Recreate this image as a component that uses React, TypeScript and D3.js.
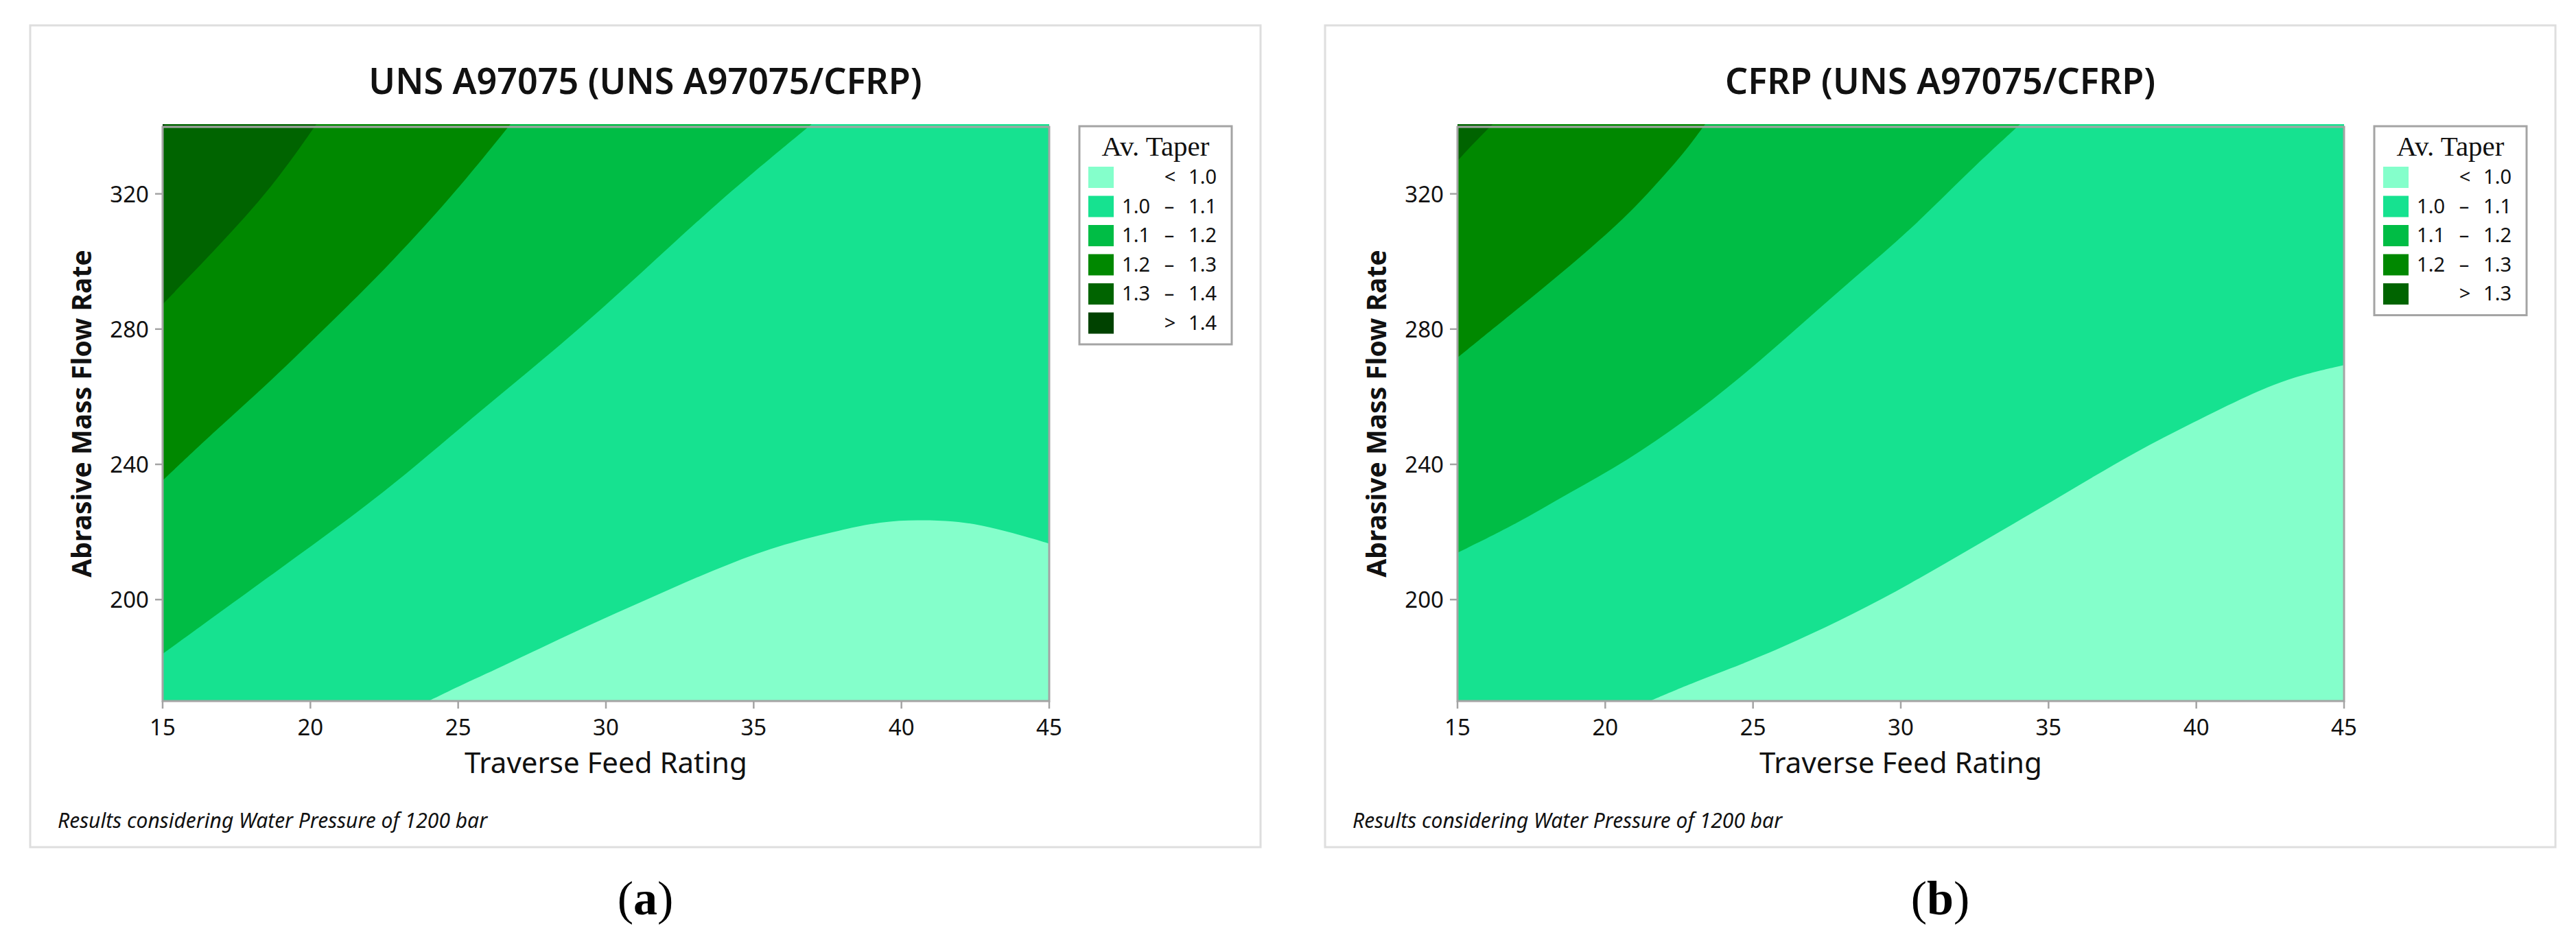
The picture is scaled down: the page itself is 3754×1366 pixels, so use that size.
import { useEffect } from 'react';
import * as d3 from 'd3';

// ── Axis setup ──
const FEED_DOMAIN: [number, number] = [15, 45];
const FLOW_DOMAIN: [number, number] = [170, 340];
const FEED_TICKS = [15, 20, 25, 30, 35, 40, 45];
const FLOW_TICKS = [200, 240, 280, 320];

// band colours, lightest (< 1.0) to darkest
const BAND_COLORS = ['#84FFCB', '#16E290', '#00BD45', '#008800', '#006400', '#004200'];

// ── Contour boundaries: [feed, flow] ──
// panel (a) UNS A97075
const A_TAPER_10 = [
  [24.0, 170.0], [24.95, 174.1], [26.48, 180.1], [28.39, 188.2], [30.31, 195.8],
  [32.22, 203.2], [34.13, 210.4], [36.05, 216.4], [37.96, 220.4], [39.3, 222.9],
  [40.54, 223.4], [41.79, 223.1], [42.74, 221.8], [43.7, 219.7], [45, 216.4],
];
const A_TAPER_11 = [
  [15, 183.9], [19.11, 209.9], [22.56, 231.6], [25.43, 253.3], [28.49, 274.9],
  [31.26, 296.6], [33.94, 318.3], [36.96, 340],
];
const A_TAPER_12 = [
  [15, 235.0], [16.82, 250.0], [18.64, 264.1], [20.55, 280.4], [22.46, 296.6],
  [24.76, 318.3], [26.77, 340],
];
const A_TAPER_13 = [[15, 286.9], [16.91, 304.2], [18.73, 321.6], [20.2, 340]];
const A_TAPER_14 = [[15, 338.8], [15.08, 340]];

// panel (b) CFRP
const B_TAPER_10 = [
  [21.51, 170], [23.04, 175.7], [24.57, 180.6], [26.48, 187.7], [28.39, 195.6],
  [30.31, 204.5], [32.22, 214.2], [34.13, 223.8], [36.05, 233.7], [37.96, 243.5],
  [39.87, 252.0], [41.79, 260.3], [43.32, 265.7], [45, 269.0],
];
const B_TAPER_11 = [
  [15, 213.7], [16.91, 221.8], [18.83, 231.6], [20.74, 240.8], [22.65, 252.2],
  [24.57, 265.2], [26.48, 279.8], [28.39, 294.5], [30.31, 308.6], [32.22, 325.4],
  [34.04, 340],
];
const B_TAPER_12 = [
  [15, 271.2], [16.91, 284.7], [18.83, 298.3], [20.74, 312.9], [21.7, 322.1],
  [22.65, 331.3], [23.38, 340],
];
const B_TAPER_13 = [[15, 329.2], [15.57, 334.6], [16.19, 340]];

// legend rows: [low, high], null = open end
const LEGEND_A: [string | null, string | null][] = [
  [null, '1.0'], ['1.0', '1.1'], ['1.1', '1.2'], ['1.2', '1.3'], ['1.3', '1.4'], ['1.4', null],
];
const LEGEND_B: [string | null, string | null][] = [
  [null, '1.0'], ['1.0', '1.1'], ['1.1', '1.2'], ['1.2', '1.3'], ['1.3', null],
];

const SANS = "'Segoe UI', 'Noto Sans', sans-serif";
const SERIF = "'Liberation Serif', 'Times New Roman', serif";
const FRAME = '#a4a4a4';

type Pt = number[];

function regionPath(
  pts: Pt[],
  x: d3.ScaleLinear<number, number>,
  y: d3.ScaleLinear<number, number>,
): string {
  // B-spline through the read-off points smooths out reading noise
  const line = d3
    .line<Pt>()
    .x((d) => x(d[0]))
    .y((d) => y(d[1]))
    .curve(d3.curveBasis);
  let p = line(pts) || '';
  const [x0, x1] = x.domain();
  const [y0, y1] = y.domain();
  const first = pts[0];
  const last = pts[pts.length - 1];
  // close the region through the top-left corner
  if (last[0] >= x1 && last[1] < y1) p += `L${x(x1)},${y(y1)}`;
  p += `L${x(x0)},${y(y1)}`;
  if (first[1] <= y0 && first[0] > x0) p += `L${x(x0)},${y(y0)}`;
  return p + 'Z';
}

interface PanelProps {
  x0: number;
  title: string;
  bounds: Pt[][];
  legend: [string | null, string | null][];
  tag: string;
}

function Panel({ x0, title, bounds, legend, tag }: PanelProps) {
  const panelW = 1793;
  const top = 184;
  const bottom = 1022;
  const left = x0 + 193;
  const right = left + 1292;
  const cx = x0 + panelW / 2;

  const x = d3.scaleLinear().domain(FEED_DOMAIN).range([left, right]);
  const y = d3.scaleLinear().domain(FLOW_DOMAIN).range([bottom, top]);
  // fills spill a few px over the top frame line, as in the original
  const yFill = d3.scaleLinear().domain(FLOW_DOMAIN).range([bottom, top - 3]);

  const lgX = right + 44;
  const lgW = 222;
  const rowH = 42.5;
  const lgH = 59 + legend.length * rowH + 4;

  return (
    <g>
      <rect x={x0} y={37} width={panelW} height={1198} fill="#fff" stroke="#dedede" strokeWidth={3} />
      <text x={cx} y={137} textAnchor="middle" fontFamily={SANS} fontWeight={600} fontSize={52} fill="#111">
        {title}
      </text>

      {/* contour bands */}
      <rect x={left} y={top - 3} width={right - left} height={bottom - top + 3} fill={BAND_COLORS[0]} />
      {bounds.map((b, i) => (
        <path key={i} d={regionPath(b, x, yFill)} fill={BAND_COLORS[i + 1]} />
      ))}

      {/* frame */}
      <rect x={left} y={top + 1} width={right - left} height={bottom - top - 1} fill="none" stroke={FRAME} strokeWidth={3} />

      {/* x axis */}
      {FEED_TICKS.map((t) => (
        <g key={t}>
          <line x1={x(t)} x2={x(t)} y1={bottom} y2={bottom + 11} stroke={FRAME} strokeWidth={2.5} />
          <text x={x(t)} y={bottom + 50} textAnchor="middle" fontFamily={SANS} fontSize={33} fill="#111">
            {t}
          </text>
        </g>
      ))}
      <text x={(left + right) / 2} y={1127} textAnchor="middle" fontFamily={SANS} fontSize={42} fill="#111">
        Traverse Feed Rating
      </text>

      {/* y axis */}
      {FLOW_TICKS.map((t) => (
        <g key={t}>
          <line x1={left - 11} x2={left} y1={y(t)} y2={y(t)} stroke={FRAME} strokeWidth={2.5} />
          <text x={left - 20} y={y(t) + 12} textAnchor="end" fontFamily={SANS} fontSize={33} fill="#111">
            {t}
          </text>
        </g>
      ))}
      <text
        transform={`translate(${left - 104},${(top + bottom) / 2}) rotate(-90)`}
        textAnchor="middle"
        fontFamily={SANS}
        fontWeight={700}
        fontSize={39}
        fill="#111"
      >
        Abrasive Mass Flow Rate
      </text>

      {/* legend */}
      <rect x={lgX} y={top} width={lgW} height={lgH} fill="#fff" stroke={FRAME} strokeWidth={3} />
      <text x={lgX + lgW / 2} y={227} textAnchor="middle" fontFamily={SERIF} fontSize={41} fill="#111">
        Av. Taper
      </text>
      {legend.map(([lo, hi], i) => {
        const ty = 243 + i * rowH;
        return (
          <g key={i} fontFamily={SANS} fontSize={29} fill="#111">
            <rect x={lgX + 13} y={ty} width={37} height={31} fill={BAND_COLORS[i]} />
            {lo && hi ? (
              <>
                <text x={lgX + 103} y={ty + 25} textAnchor="end">{lo}</text>
                <text x={lgX + 131} y={ty + 25} textAnchor="middle">–</text>
                <text x={lgX + 200} y={ty + 25} textAnchor="end">{hi}</text>
              </>
            ) : (
              <>
                <text x={lgX + 132} y={ty + 25} textAnchor="middle">{lo ? '>' : '<'}</text>
                <text x={lgX + 200} y={ty + 25} textAnchor="end">{lo || hi}</text>
              </>
            )}
          </g>
        );
      })}

      <text x={x0 + 40} y={1207} fontFamily={SANS} fontStyle="italic" fontSize={30} fill="#111">
        Results considering Water Pressure of 1200 bar
      </text>

      <text x={cx} y={1333} textAnchor="middle" fontFamily={SERIF} fontSize={70} fill="#000">
        (<tspan fontWeight={700}>{tag}</tspan>)
      </text>
    </g>
  );
}

export default function App() {
  useEffect(() => {
    document.body.style.margin = '0';
    document.body.style.overflow = 'hidden';
  }, []);

  return (
    <svg width={3754} height={1366} viewBox="0 0 3754 1366" style={{ display: 'block', background: '#fff' }}>
      <Panel
        x0={44}
        title="UNS A97075 (UNS A97075/CFRP)"
        bounds={[A_TAPER_10, A_TAPER_11, A_TAPER_12, A_TAPER_13, A_TAPER_14]}
        legend={LEGEND_A}
        tag="a"
      />
      <Panel
        x0={1931}
        title="CFRP (UNS A97075/CFRP)"
        bounds={[B_TAPER_10, B_TAPER_11, B_TAPER_12, B_TAPER_13]}
        legend={LEGEND_B}
        tag="b"
      />
    </svg>
  );
}
